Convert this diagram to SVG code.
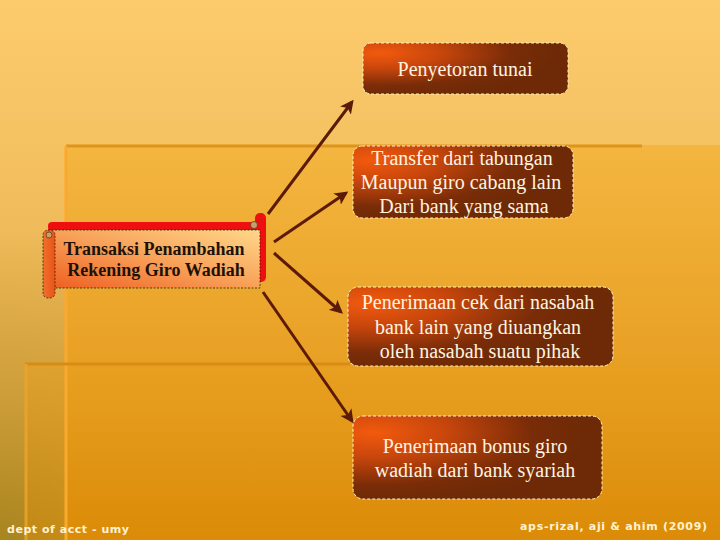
<svg xmlns="http://www.w3.org/2000/svg" width="720" height="540" viewBox="0 0 720 540">
<defs>
  <linearGradient id="bg" x1="0" y1="0" x2="0" y2="1">
    <stop offset="0" stop-color="#FCCB6C"/>
    <stop offset="0.27" stop-color="#F5C262"/>
    <stop offset="1" stop-color="#DCA23E"/>
  </linearGradient>
  <radialGradient id="leftShade" gradientUnits="userSpaceOnUse" cx="0" cy="560" r="330">
    <stop offset="0" stop-color="#A0801A" stop-opacity="0.95"/>
    <stop offset="0.5" stop-color="#B08A22" stop-opacity="0.45"/>
    <stop offset="1" stop-color="#B08A22" stop-opacity="0"/>
  </radialGradient>
  <linearGradient id="panel1" x1="0" y1="0" x2="0" y2="1">
    <stop offset="0" stop-color="#F4B640"/>
    <stop offset="0.55" stop-color="#E8A024"/>
    <stop offset="1" stop-color="#DC8C08"/>
  </linearGradient>
  <linearGradient id="panel2" x1="0" y1="0" x2="0" y2="1">
    <stop offset="0" stop-color="#E8A020"/>
    <stop offset="1" stop-color="#DA8A06"/>
  </linearGradient>
  <radialGradient id="boxFill" cx="0.08" cy="0.2" r="0.85" fx="0.08" fy="0.2">
    <stop offset="0" stop-color="#F25A0E"/>
    <stop offset="0.35" stop-color="#C8460C"/>
    <stop offset="0.75" stop-color="#7A2C08"/>
    <stop offset="1" stop-color="#6E2A06"/>
  </radialGradient>
  <linearGradient id="scrollFill" x1="0" y1="1" x2="1" y2="0">
    <stop offset="0" stop-color="#EE5E22"/>
    <stop offset="0.5" stop-color="#F8A058"/>
    <stop offset="1" stop-color="#FFD88A"/>
  </linearGradient>
  <linearGradient id="rollFill" x1="0" y1="0" x2="1" y2="0">
    <stop offset="0" stop-color="#F0702E"/>
    <stop offset="1" stop-color="#E85418"/>
  </linearGradient>
  <marker id="arr" viewBox="0 0 10 10" refX="8" refY="5" markerWidth="4.5" markerHeight="4.5" orient="auto" markerUnits="strokeWidth">
    <path d="M0,0 L10,5 L0,10 L2.5,5 Z" fill="#5C1A08"/>
  </marker>
  <style>
    .box { fill: url(#boxFill); stroke: #FFF0C8; stroke-width: 1; stroke-dasharray: 3 2; }
    .btxt { font-family: "Liberation Serif", "Times New Roman", serif; font-size: 20px; fill: #FFF4E0; text-anchor: middle; }
    .stxt { font-family: "Liberation Serif", "Times New Roman", serif; font-size: 18px; font-weight: bold; fill: #1E1208; text-anchor: middle; }
    .conn { stroke: #5C1A08; stroke-width: 3; fill: none; marker-end: url(#arr); }
    .foot { font-family: "DejaVu Sans", Verdana, sans-serif; font-size: 11px; fill: #FFF2D0; font-weight: bold; }
  </style>
</defs>

<!-- background -->
<rect x="0" y="0" width="720" height="540" fill="url(#bg)"/>
<rect x="0" y="0" width="720" height="540" fill="url(#leftShade)"/>
<rect x="66" y="145" width="654" height="395" fill="url(#panel1)"/>
<rect x="25" y="363" width="695" height="177" fill="url(#panel2)" opacity="0.45"/>
<line x1="66" y1="146" x2="642" y2="146" stroke="#E0941A" stroke-width="3"/>
<line x1="66" y1="146" x2="66" y2="540" stroke="#FBA92C" stroke-width="3"/>
<line x1="25" y1="364" x2="350" y2="364" stroke="#D88C14" stroke-width="3"/>
<line x1="26" y1="364" x2="26" y2="540" stroke="#F0A428" stroke-width="3" opacity="0.8"/>

<!-- connectors -->
<g id="connectors">
  <line class="conn" x1="268" y1="214" x2="352" y2="102"/>
  <line class="conn" x1="274" y1="242" x2="346" y2="193"/>
  <line class="conn" x1="274" y1="253" x2="341" y2="312"/>
  <line class="conn" x1="263" y1="292" x2="352" y2="421"/>
</g>

<!-- main scroll node -->
<g id="node-main">
  <rect x="48" y="222" width="215" height="9" rx="4" fill="#EE1010"/>
  <rect x="255" y="213" width="11" height="69" rx="5" fill="#EE1010"/>
  <rect x="48" y="230" width="212" height="58" fill="url(#scrollFill)" stroke="#3A2008" stroke-width="0.8" stroke-dasharray="2 1.5"/>
  <rect x="43" y="230" width="12" height="68" rx="5" fill="url(#rollFill)" stroke="#3A2008" stroke-width="0.8" stroke-dasharray="2 1.5"/>
  <circle cx="49" cy="235" r="3" fill="#C8A070" stroke="#5A4020" stroke-width="0.8"/>
  <circle cx="254" cy="225" r="3.5" fill="#C8A070" stroke="#5A4020" stroke-width="0.8"/>
  <text class="stxt" x="154" y="255">Transaksi Penambahan</text>
  <text class="stxt" x="156" y="276">Rekening Giro Wadiah</text>
</g>

<g id="node-1">
  <rect class="box" x="363" y="43" width="205" height="51" rx="8"/>
  <text class="btxt" x="465" y="76">Penyetoran tunai</text>
</g>

<g id="node-2">
  <rect class="box" x="353" y="146" width="220" height="72" rx="9"/>
  <text class="btxt" x="462" y="165">Transfer dari tabungan</text>
  <text class="btxt" x="461" y="189">Maupun giro cabang lain</text>
  <text class="btxt" x="464" y="213">Dari bank yang sama</text>
</g>

<g id="node-3">
  <rect class="box" x="348" y="287" width="265" height="79" rx="10"/>
  <text class="btxt" x="478" y="309">Penerimaan cek dari nasabah</text>
  <text class="btxt" x="478" y="334">bank lain yang diuangkan</text>
  <text class="btxt" x="480" y="358">oleh nasabah suatu pihak</text>
</g>

<g id="node-4">
  <rect class="box" x="353" y="416" width="249" height="83" rx="10"/>
  <text class="btxt" x="475" y="453">Penerimaan bonus giro</text>
  <text class="btxt" x="475" y="477">wadiah dari bank syariah</text>
</g>

<text class="foot" x="7" y="533" textLength="122" lengthAdjust="spacing">dept of acct - umy</text>
<text class="foot" x="520" y="530" textLength="187" lengthAdjust="spacing">aps-rizal, aji &amp; ahim (2009)</text>
</svg>
